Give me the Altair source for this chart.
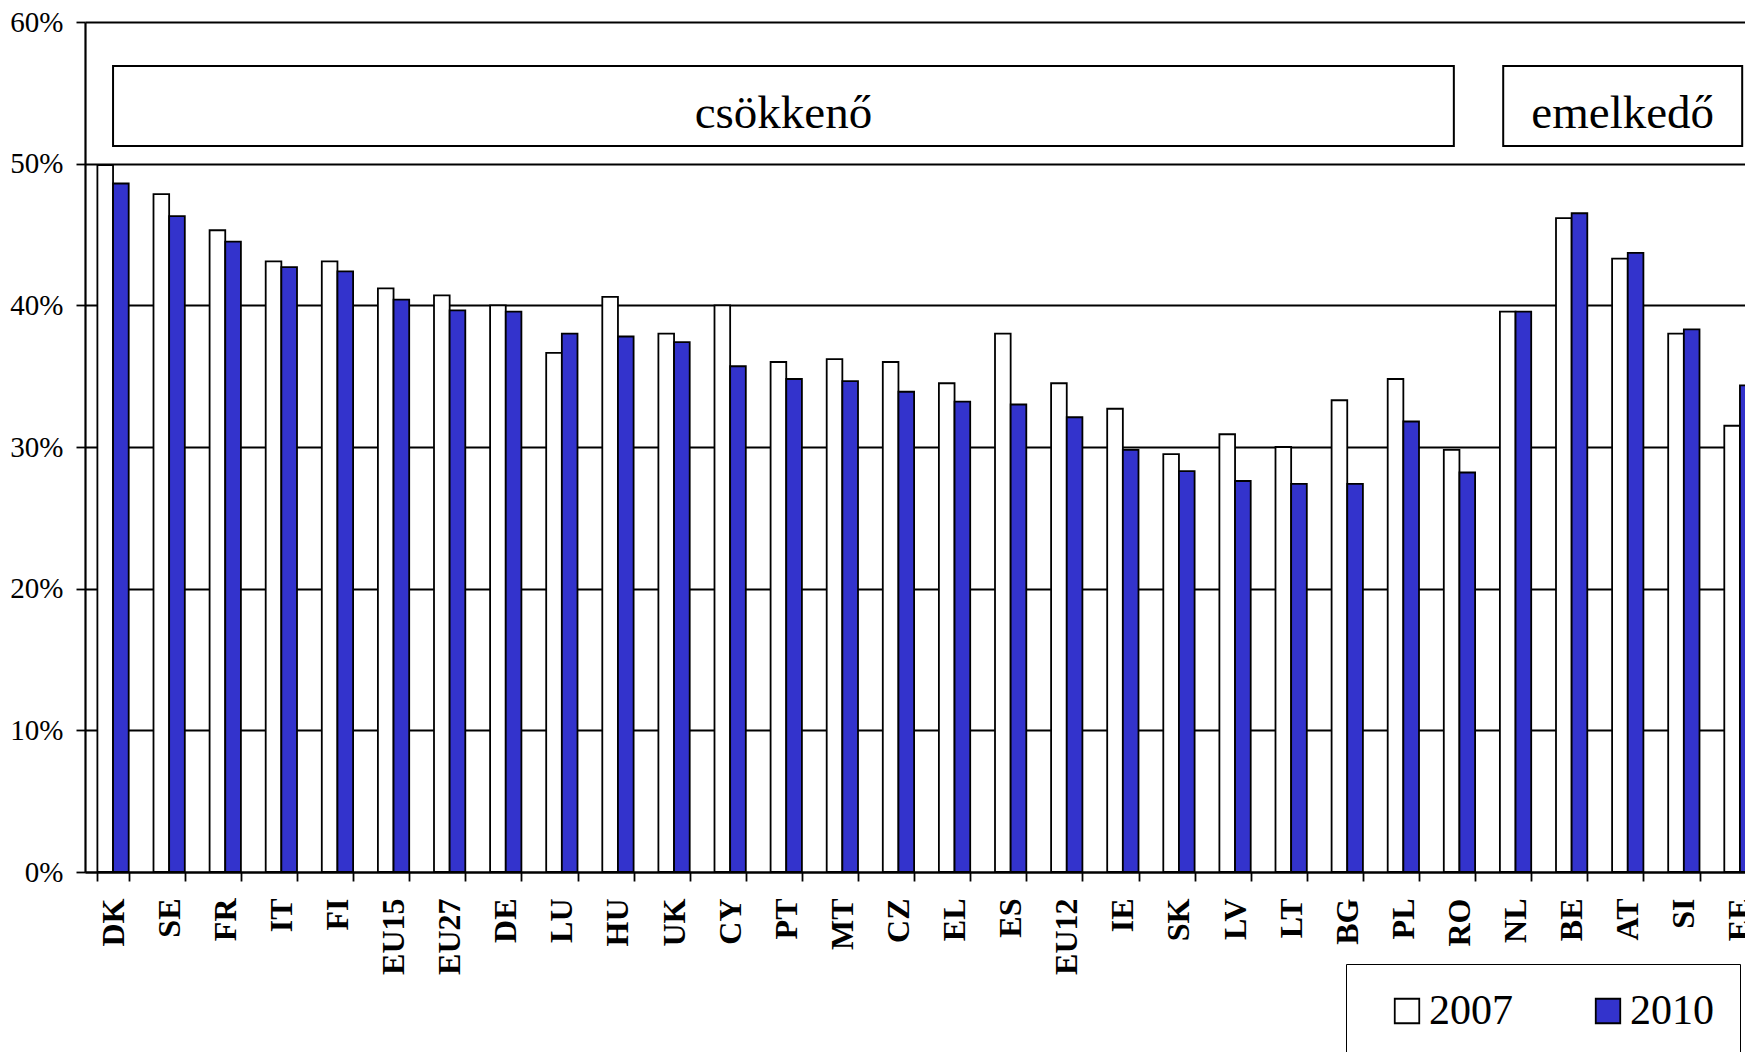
import altair as alt
import pandas as pd

countries = ["DK", "SE", "FR", "IT", "FI", "EU15", "EU27", "DE", "LU", "HU",
             "UK", "CY", "PT", "MT", "CZ", "EL", "ES", "EU12", "IE", "SK",
             "LV", "LT", "BG", "PL", "RO", "NL", "BE", "AT", "SI", "EE"]
v2007 = [49.9, 47.85, 45.3, 43.1, 43.1, 41.2, 40.7, 40.0, 36.65, 40.6,
         38.0, 40.0, 36.0, 36.2, 36.0, 34.5, 38.0, 34.5, 32.7, 29.5,
         30.9, 30.0, 33.3, 34.8, 29.8, 39.55, 46.15, 43.3, 38.0, 31.5]
v2010 = [48.6, 46.3, 44.5, 42.7, 42.4, 40.4, 39.65, 39.55, 38.0, 37.8,
         37.4, 35.7, 34.8, 34.65, 33.9, 33.2, 33.0, 32.1, 29.8, 28.3,
         27.6, 27.4, 27.4, 31.8, 28.2, 39.55, 46.5, 43.7, 38.3, 34.35]
years = ["2007", "2010"]

# annotation boxes (x in category-index units, y in %)
box_labels = ["csökkenő", "emelkedő"]
box_x0 = [0.5, 25.28]
box_x1 = [24.40, 29.54]
box_y0 = [51.25, 51.25]
box_y1 = [56.9, 56.9]

y_ticks = [0, 10, 20, 30, 40, 50, 60]

rows = []
for c, a, b in zip(countries, v2007, v2010):
    rows.append({"country": c, "year": years[0], "value": a})
    rows.append({"country": c, "year": years[1], "value": b})
df = pd.DataFrame(rows)
boxes = pd.DataFrame({"label": box_labels, "x0": box_x0, "x1": box_x1,
                      "y0": box_y0, "y1": box_y1})

FONT = "Liberation Serif"
PLOT_W = 1683      # full extent of the category axis (runs past the page edge)
VIS_W = 1660       # visible part inside the page
H = 850

yscale = alt.Scale(domain=[0, 60], nice=False)

bars = alt.Chart(df).mark_bar(stroke="black", strokeWidth=1.8).encode(
    x=alt.X("country:N", sort=countries,
            scale=alt.Scale(paddingInner=0.442, paddingOuter=0.221,
                            range=[0, PLOT_W]),
            axis=alt.Axis(title=None, labelAngle=270, labelFont=FONT,
                          labelFontSize=32, labelFontWeight="bold",
                          labelColor="black", labelPadding=17, tickSize=9,
                          tickColor="black", tickWidth=1.8, tickBand="extent",
                          domainColor="black", domainWidth=2.2,
                          labelOverlap=False, labelLimit=0, grid=False)),
    xOffset=alt.XOffset("year:N", sort=years,
                        scale=alt.Scale(paddingInner=0, paddingOuter=0)),
    y=alt.Y("value:Q", scale=yscale,
            axis=alt.Axis(title=None, values=y_ticks,
                          labelExpr="datum.value + '%'", labelFont=FONT,
                          labelFontSize=29, labelColor="black",
                          labelPadding=13, tickSize=9, tickColor="black",
                          tickWidth=1.8, domainColor="black", domainWidth=2.2,
                          grid=True, gridColor="black", gridWidth=1.8,
                          gridOpacity=1)),
    color=alt.Color("year:N", sort=years,
                    scale=alt.Scale(domain=years, range=["white", "#3333CC"]),
                    legend=alt.Legend(title=None, orient="none", legendX=1261,
                                      legendY=942, direction="horizontal",
                                      symbolType="square", symbolSize=600,
                                      symbolStrokeColor="black",
                                      symbolStrokeWidth=1.8,
                                      labelFont=FONT, labelFontSize=42,
                                      labelColor="black", labelOffset=1,
                                      columnPadding=60, padding=26,
                                      symbolOffset=14,
                                      strokeColor="black", fillColor="white")),
)

xq = alt.Scale(domain=[0, len(countries)], nice=False, zero=False,
               range=[0, PLOT_W])

rects = alt.Chart(boxes).mark_rect(fill="white", stroke="black",
                                   strokeWidth=2).encode(
    x=alt.X("x0:Q", scale=xq, axis=None),
    x2="x1:Q",
    y=alt.Y("y0:Q", scale=yscale),
    y2="y1:Q",
)

texts = alt.Chart(boxes).transform_calculate(
    xm="(datum.x0 + datum.x1) / 2",
    ym="(datum.y0 + datum.y1) / 2",
).mark_text(font=FONT, fontSize=47, color="black", align="center",
            baseline="middle", dy=8).encode(
    x=alt.X("xm:Q", scale=xq, axis=None),
    y=alt.Y("ym:Q", scale=yscale),
    text="label:N",
)

ann = alt.layer(rects, texts)

chart = alt.layer(bars, ann).resolve_scale(x="independent").properties(
    width=VIS_W, height=H,
    autosize=alt.AutoSizeParams(type="none"),
    padding={"left": 77, "top": 14, "right": 0, "bottom": 180},
).configure_view(stroke=None).configure(background="white")

chart.save("out.html", embed_options={"renderer": "svg", "actions": False})
